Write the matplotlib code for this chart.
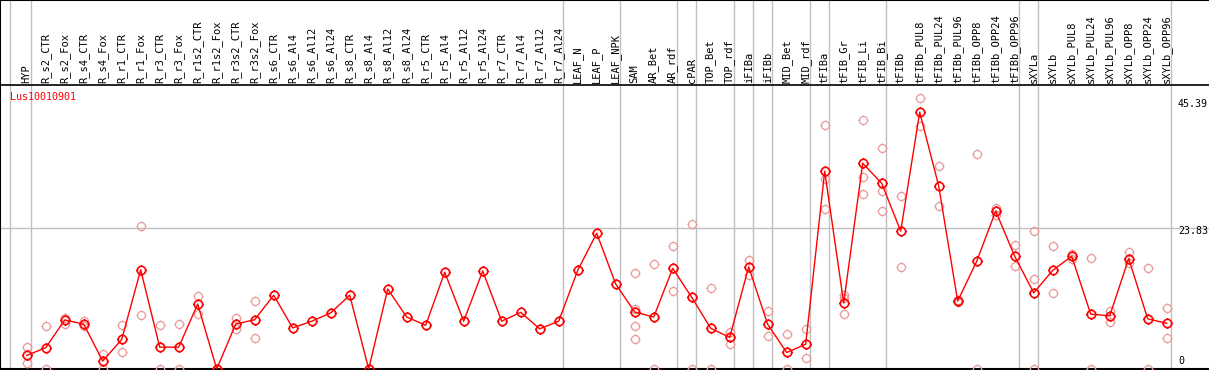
import matplotlib
matplotlib.use("Agg")
import numpy as np
import matplotlib.pyplot as plt
from matplotlib.path import Path

etykiety = ["HYP",
    "R_s2_CTR", "R_s2_Fox", "R_s4_CTR", "R_s4_Fox", "R_r1_CTR", "R_r1_Fox", "R_r3_CTR", "R_r3_Fox",
    "R_r1s2_CTR", "R_r1s2_Fox", "R_r3s2_CTR", "R_r3s2_Fox",
    "R_s6_CTR", "R_s6_Al4", "R_s6_Al12", "R_s6_Al24", "R_s8_CTR", "R_s8_Al4", "R_s8_Al12", "R_s8_Al24",
    "R_r5_CTR", "R_r5_Al4", "R_r5_Al12", "R_r5_Al24", "R_r7_CTR", "R_r7_Al4", "R_r7_Al12", "R_r7_Al24",
    "LEAF_N", "LEAF_P", "LEAF_NPK", "SAM", "AR_Bet", "AR_rdf", "cPAR", "TOP_Bet", "TOP_rdf",
    "iFIBa", "iFIBb", "MID_Bet", "MID_rdf", "tFIBa", "tFIB_Gr", "tFIB_Li", "tFIB_Bi",
    "tFIBb", "tFIBb_PUL8", "tFIBb_PUL24", "tFIBb_PUL96", "tFIBb_OPP8", "tFIBb_OPP24", "tFIBb_OPP96",
    "sXYLa", "sXYLb", "sXYLb_PUL8", "sXYLb_PUL24", "sXYLb_PUL96", "sXYLb_OPP8", "sXYLb_OPP24", "sXYLb_OPP96"]

srednie = [2.3, 3.6, 8.3, 7.6, 1.35, 5.0, 16.8, 3.7, 3.7, 11.0, 0.0, 7.6, 8.35,
    12.5, 6.95, 8.1, 9.5, 12.5, 0.0, 13.55, 8.8, 7.4, 16.4, 8.1, 16.6, 8.1, 9.6, 6.8, 8.1,
    16.7, 23.0, 14.4, 9.65, 8.8, 17.05, 12.15, 6.9, 5.35, 17.3, 7.55, 2.8, 4.2,
    33.5, 11.2, 34.85, 31.45, 23.35, 43.5, 31.0, 11.5, 18.25, 26.75, 19.1,
    12.9, 16.7, 19.1, 9.3, 9.0, 18.7, 8.5, 7.75]

powtorzenia = [[3.7, 1.1], [7.3, 0.0], [8.6, 7.6], [8.1, 7.2], [2.6, 0.0], [7.4, 2.8], [24.3, 9.1],
    [7.4, 0.0], [7.6, 0.0], [12.3, 9.4], [0.0], [8.6, 6.7], [11.5, 5.2],
    [], [], [], [], [], [], [], [], [], [], [], [], [], [], [], [],
    [], [], [], [16.3, 10.1, 7.3, 5.0], [17.8, 0.0], [20.8, 13.2], [24.5, 0.0], [13.8, 0.0], [6.3, 4.2],
    [18.4, 16.0], [9.8, 5.6], [5.9, 0.0], [6.8, 1.8], [41.3, 32.2, 27.1], [12.5, 12.0, 9.3],
    [42.1, 32.6, 29.6], [37.4, 30.1, 26.8], [29.3, 17.3], [45.9, 41.1], [34.3, 27.6], [11.7, 11.3],
    [36.5, 0.0], [27.3, 26.0], [21.0, 17.4], [23.3, 15.3, 0.0], [20.8, 12.9], [19.5, 18.7],
    [18.8, 0.0], [9.9, 7.9], [19.8, 17.9], [17.1, 0.0], [10.3, 5.2]]

# ostatnia kolumna kazdej grupy
koniec_grupy = [0, 28, 31, 34, 35, 37, 38, 39, 41, 42, 45, 52, 53, 60]
y_etykiety = [45.39, 23.83, 0]

plt.rcParams['font.family'] = 'DejaVu Sans Mono'

# kolko z malymi kreseczkami
t = np.linspace(0, 2 * np.pi, 33)
kolo = Path(np.column_stack([np.cos(t), np.sin(t)]))
kreski = Path([(0, 1), (0, 1.25), (0, -1), (0, -1.25), (1, 0), (1.25, 0), (-1, 0), (-1.25, 0)],
              [Path.MOVETO, Path.LINETO] * 4)
znacznik = Path.make_compound_path(kolo, kreski)

fig = plt.figure(figsize=(12.09, 3.70), dpi=100)
xlim = ((0 - 26.7) / 19, (1209 - 26.7) / 19)
ymax = 284 / 5.904

naglowek = fig.add_axes([0, 285 / 370, 1, 85 / 370])
ax = fig.add_axes([0, 1 / 370, 1, 284 / 370])
naglowek.patch.set_visible(False)

x = list(range(len(etykiety)))
for i in x:
    if powtorzenia[i]:
        ax.plot([i] * len(powtorzenia[i]), powtorzenia[i], linestyle='none', marker=znacznik,
                markersize=7.2, markerfacecolor='none', markeredgecolor='#e99a9a',
                markeredgewidth=0.9, zorder=3)
ax.plot(x, srednie, color='red', lw=1.0, marker=znacznik, markersize=7.5,
        markerfacecolor='none', markeredgecolor='red', markeredgewidth=1.2, zorder=4)

for a in (ax, naglowek):
    a.set_xlim(xlim)
    a.axvline(-0.88, color='#c0c0c0', lw=1.0, zorder=1)
    for k in koniec_grupy:
        a.axvline(k + 4 / 19, color='#c0c0c0', lw=1.0, zorder=1)
ax.axhline(23.83, color='#c0c0c0', lw=1.0, zorder=1)
ax.set_ylim(0, ymax)

ax.set_yticks([])
ax.set_xticks(x)
ax.set_xticklabels(etykiety, fontsize=7.5)
ax.xaxis.tick_top()
ax.tick_params(axis='x', top=True, length=0, pad=1.5, labelrotation=90)
ax.spines['right'].set_visible(False)
ax.spines['top'].set_linewidth(1.2)
ax.spines['bottom'].set_linewidth(1.5)
ax.spines['left'].set_linewidth(1.5)

naglowek.set_ylim(0, 1)
naglowek.set_xticks([])
naglowek.set_yticks([])
naglowek.spines['right'].set_visible(False)
naglowek.spines['bottom'].set_visible(False)
naglowek.spines['top'].set_linewidth(1.5)
naglowek.spines['left'].set_linewidth(1.5)

xt = (1178 - 26.7) / 19
for v in y_etykiety:
    if v == 0:
        ax.text(xt, v + 0.5, str(v), fontsize=7.2, va='bottom', ha='left')
    else:
        ax.text(xt, v + 0.4, str(v), fontsize=7.2, va='top', ha='left')

ax.text(-0.88, 47.0, "Lus10010901", color='red', fontsize=7.2, va='top', ha='left')

fig.savefig("out.png", dpi=100)
